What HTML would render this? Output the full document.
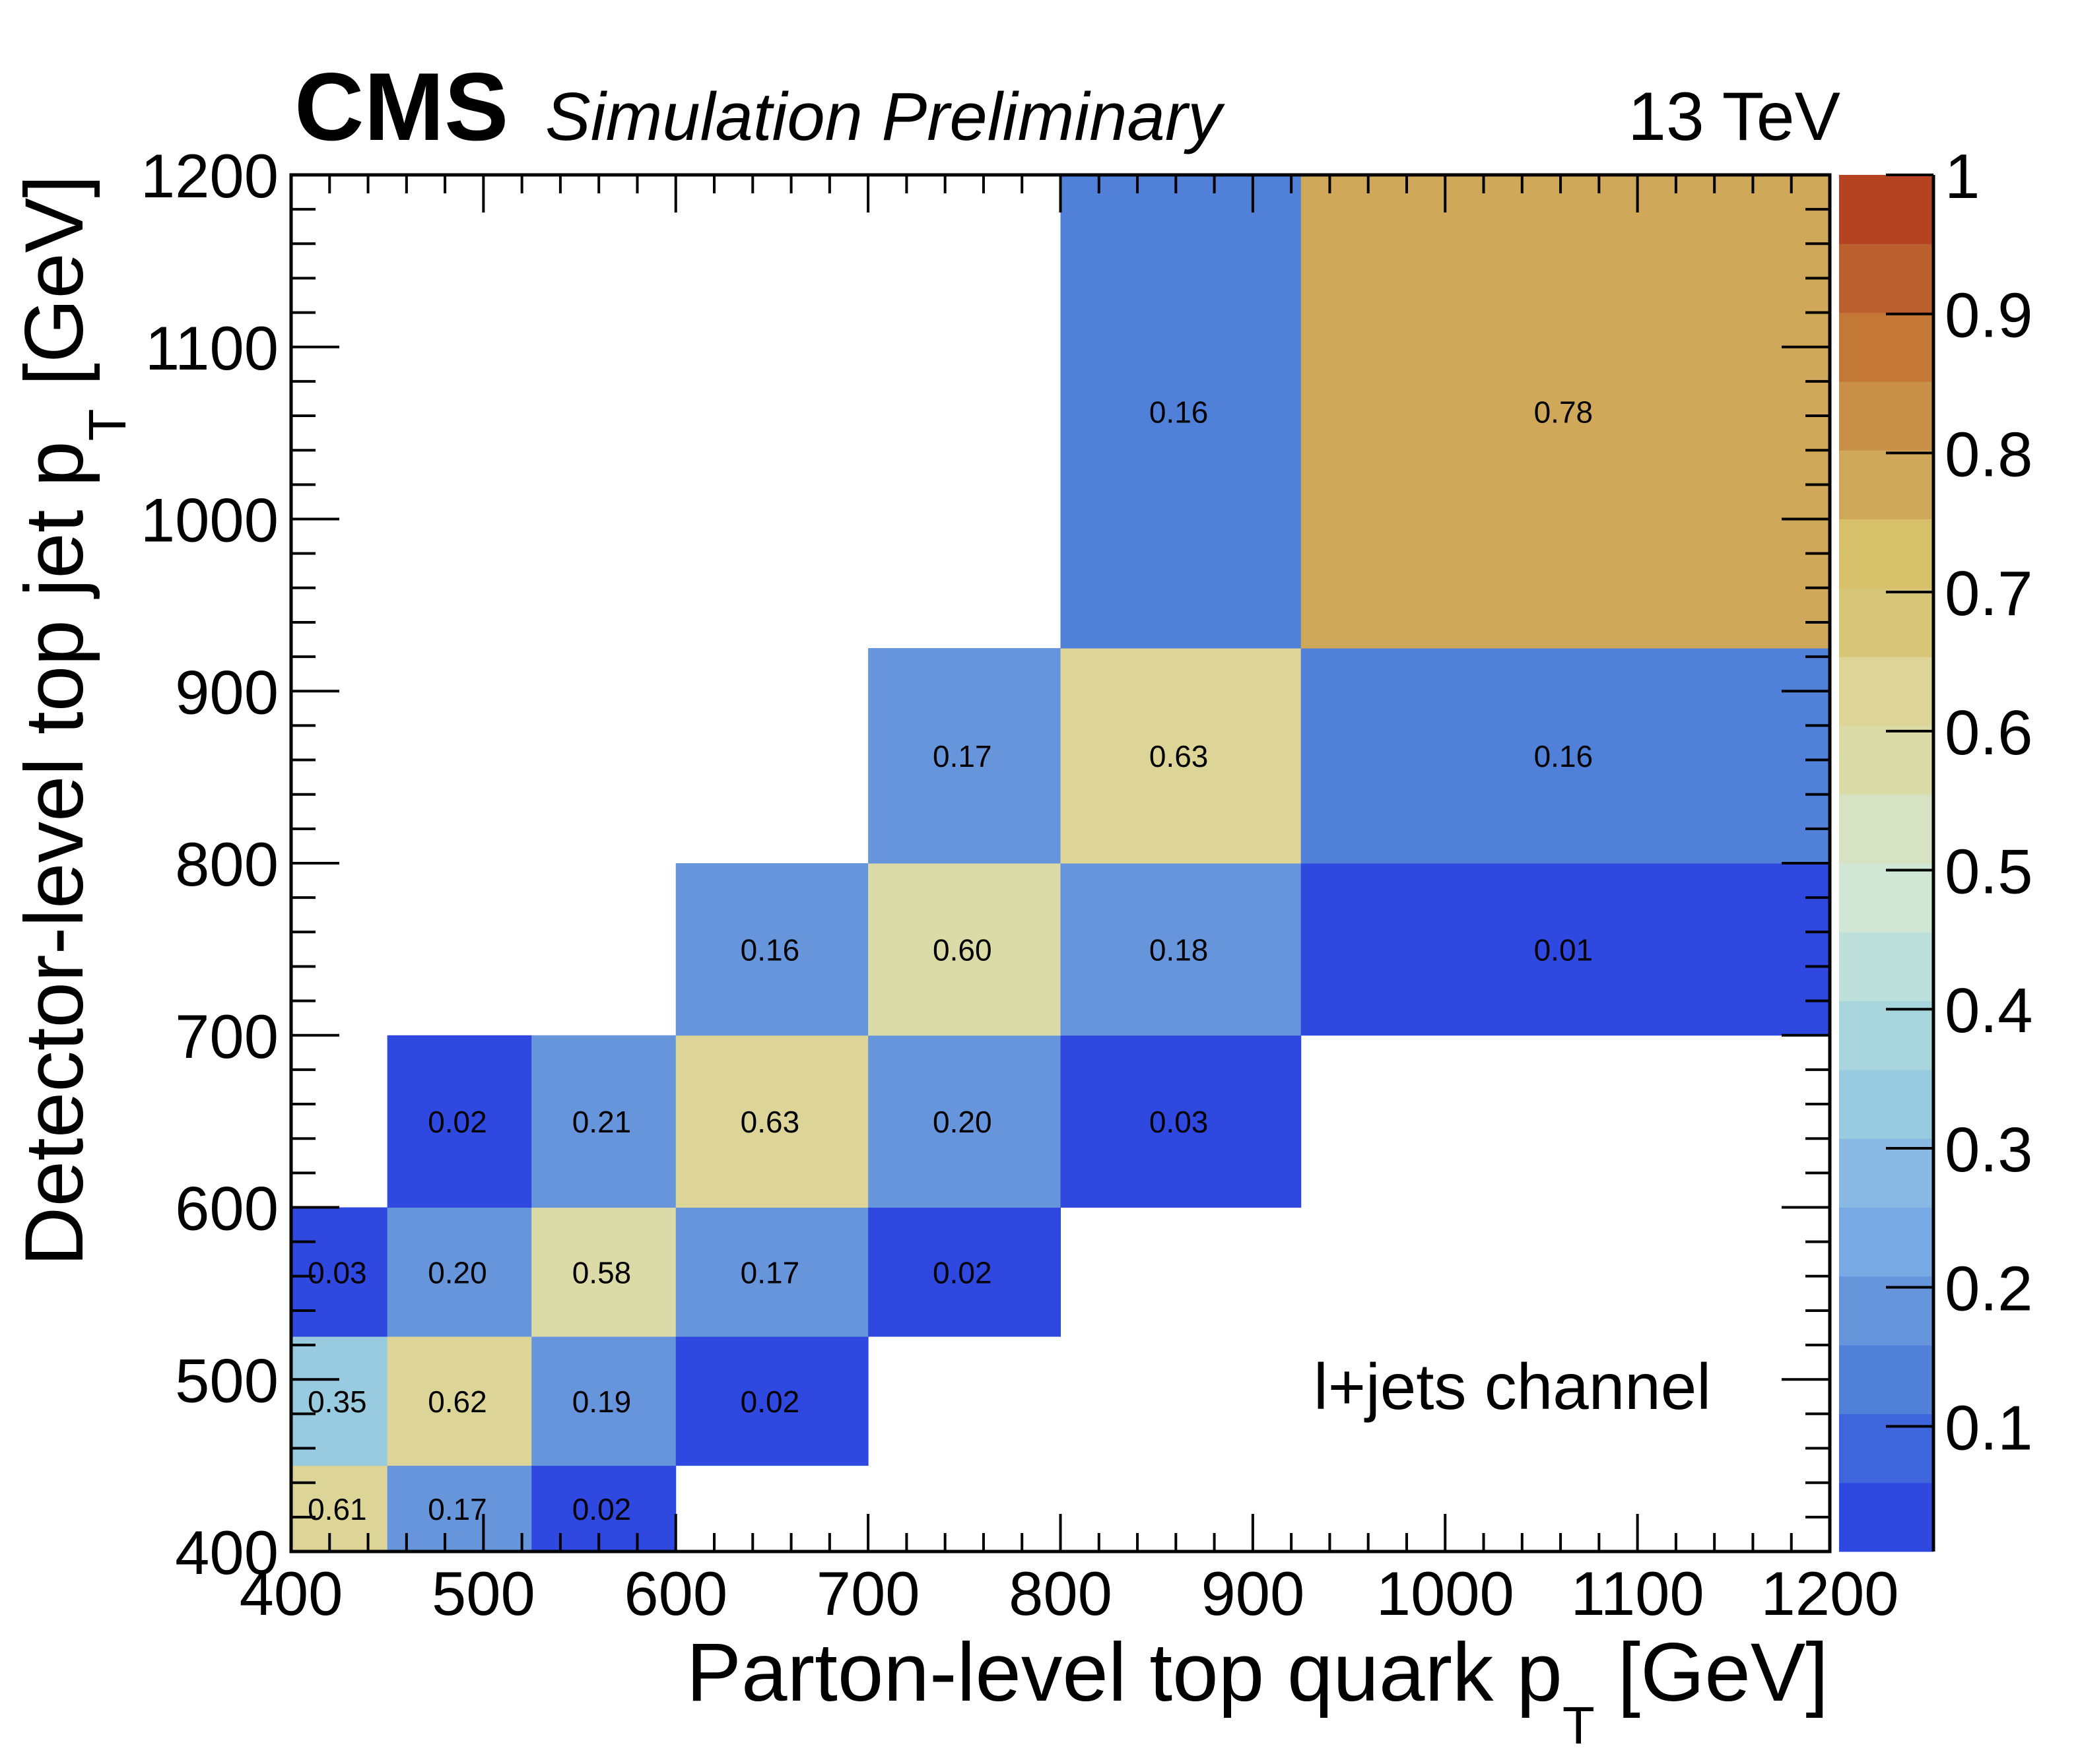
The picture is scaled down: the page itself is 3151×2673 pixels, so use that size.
<!DOCTYPE html>
<html><head><meta charset="utf-8"><style>
html,body{margin:0;padding:0;background:#fff;}
svg{display:block;font-family:"Liberation Sans",sans-serif;}
</style></head><body>
<svg id="chart" width="3151" height="2673" viewBox="0 0 3151 2673" xmlns="http://www.w3.org/2000/svg">
<g id="cells"></g>
<g id="celltext"></g>
<g id="cbar"></g>
<g id="axes"></g>
<text x="446" y="212" font-size="146" font-weight="bold">CMS</text>
<text x="826" y="212" font-size="103" font-style="italic">Simulation Preliminary</text>
<text x="2788" y="212" font-size="104" text-anchor="end">13 TeV</text>
<text x="1990" y="2135" font-size="98">l+jets channel</text>
<text x="2770" y="2577" font-size="125" text-anchor="end">Parton-level top quark p<tspan font-size="80" dy="65">T</tspan><tspan dy="-65"> [GeV]</tspan></text>
<text transform="translate(125,265) rotate(-90)" font-size="125" text-anchor="end">Detector-level top jet p<tspan font-size="80" dy="65">T</tspan><tspan dy="-65"> [GeV]</tspan></text>
</svg>
<script>
const xEdges=[400,450,525,600,700,800,925,1200];
const yEdges=[400,450,525,600,700,800,925,1200];
const cellX=[0,1,2, 0,1,2,3, 0,1,2,3,4, 1,2,3,4,5, 3,4,5,6, 4,5,6, 5,6];
const cellY=[0,0,0, 1,1,1,1, 2,2,2,2,2, 3,3,3,3,3, 4,4,4,4, 5,5,5, 6,6];
const cellV=[0.61,0.17,0.02, 0.35,0.62,0.19,0.02, 0.03,0.20,0.58,0.17,0.02, 0.02,0.208,0.63,0.20,0.03, 0.162,0.60,0.18,0.01, 0.17,0.63,0.158, 0.158,0.78];
const xTicks=[400,500,600,700,800,900,1000,1100,1200];
const yTicks=[400,500,600,700,800,900,1000,1100,1200];
const zTicks=[0.1,0.2,0.3,0.4,0.5,0.6,0.7,0.8,0.9,1];
const zTickLabels=["0.1","0.2","0.3","0.4","0.5","0.6","0.7","0.8","0.9","1"];
const palette=["#2f48e0","#3f65dc","#5080d8","#6795dc","#79a9e5","#89b8e2","#98cae0","#a9d5dc","#bde0da","#d0e7d5","#d6e2c1","#dbdba7","#ddd497","#d7c677","#d6c06a","#d0a85a","#c89048","#c37838","#bb5f2e","#b54322"];
const zMin=0.01,zMax=1;
const L=441,R=2772,T=265,B=2351;
const CBL=2786,CBR=2929;
const NS="http://www.w3.org/2000/svg";
const sx=v=>L+(v-400)/800*(R-L);
const sy=v=>B-(v-400)/800*(B-T);
const sz=v=>B-(v-zMin)/(zMax-zMin)*(B-T);
function colorOf(v){let i=Math.floor((v-zMin)/((zMax-zMin)/palette.length));return palette[Math.max(0,Math.min(palette.length-1,i))];}
function mk(tag,attrs,parent){const e=document.createElementNS(NS,tag);for(const k in attrs)e.setAttribute(k,attrs[k]);parent.appendChild(e);return e;}
const gc=document.getElementById('cells'),gt=document.getElementById('celltext'),gb=document.getElementById('cbar'),ga=document.getElementById('axes');
for(let i=0;i<cellV.length;i++){
  const x0=sx(xEdges[cellX[i]]),x1=sx(xEdges[cellX[i]+1]),y0=sy(yEdges[cellY[i]+1]),y1=sy(yEdges[cellY[i]]);
  const r=mk('rect',{x:x0,y:y0,width:x1-x0+0.5,height:y1-y0+0.5,fill:colorOf(cellV[i])},gc);
  
  
  const t=mk('text',{x:(x0+x1)/2-3,y:(y0+y1)/2+17,'font-size':46,'text-anchor':'middle'},gt);
  t.textContent=(Math.round(cellV[i]*100)/100).toFixed(2);
  
  
}
for(let i=0;i<palette.length;i++){
  const z0=zMin+i*(zMax-zMin)/palette.length,z1=zMin+(i+1)*(zMax-zMin)/palette.length;
  const r=mk('rect',{x:CBL,y:sz(z1),width:CBR-CBL,height:sz(z0)-sz(z1)+0.5,fill:palette[i]},gb);
  
  
}
mk('line',{x1:CBR,y1:T,x2:CBR,y2:B,stroke:'#000','stroke-width':5},gb);
zTicks.forEach((z,i)=>{
  const y=sz(z);
  mk('line',{x1:CBR-72,y1:y,x2:CBR,y2:y,stroke:'#000','stroke-width':4},gb);
  const t=mk('text',{x:2946,y:y+35,'font-size':96},gb);
  t.textContent=zTickLabels[i];
  
  
});
mk('rect',{x:L,y:T,width:R-L,height:B-T,fill:'none',stroke:'#000','stroke-width':5},ga);
for(let v=400;v<=1200;v+=20){
  const major=(v%100===0);const len=major?57:28;const x=sx(v);
  mk('line',{x1:x,y1:B,x2:x,y2:B-len,stroke:'#000','stroke-width':4},ga);
  mk('line',{x1:x,y1:T,x2:x,y2:T+len,stroke:'#000','stroke-width':4},ga);
  const ylen=major?73:37;const y=sy(v);
  mk('line',{x1:L,y1:y,x2:L+ylen,y2:y,stroke:'#000','stroke-width':4},ga);
  mk('line',{x1:R,y1:y,x2:R-ylen,y2:y,stroke:'#000','stroke-width':4},ga);
}
xTicks.forEach(v=>{
  const t=mk('text',{x:sx(v),y:2447,'font-size':94,'text-anchor':'middle'},ga);
  t.textContent=String(v);
  
  
});
yTicks.forEach(v=>{
  const t=mk('text',{x:422,y:sy(v)+34,'font-size':94,'text-anchor':'end'},ga);
  t.textContent=String(v);
  
  
});
</script>
</body></html>
